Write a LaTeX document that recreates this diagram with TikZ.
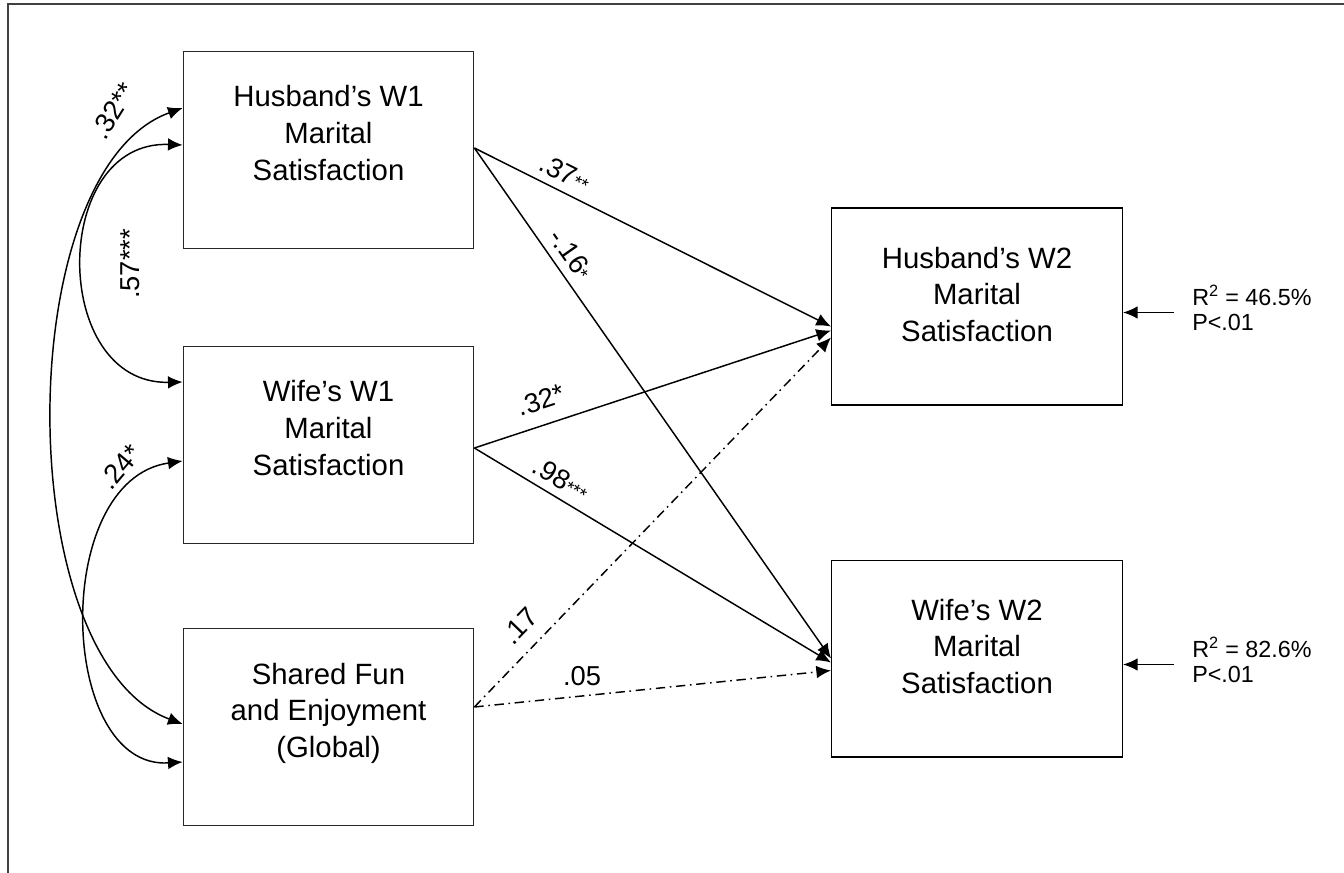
\documentclass[tikz,border=0pt]{standalone}
\usepackage{fontspec}
\setmainfont{Liberation Sans}
\usetikzlibrary{arrows.meta,calc}
\newcommand\smlast[1]{{\fontsize{14}{14}\selectfont #1}}
\begin{document}
\begin{tikzpicture}[x=0.75pt,y=-0.75pt,
  box/.style={draw=black!85, line width=0.8pt, minimum width=218pt, minimum height=147.5pt, inner sep=0pt},
  boxtext/.style={align=center, font=\fontsize{22}{27.4}\selectfont, inner sep=0pt},
  conn/.style={line width=1.1pt, -{Latex[length=11pt,width=9.5pt]}},
  corr/.style={line width=1.1pt, {Latex[length=11pt,width=9.5pt]}-{Latex[length=11pt,width=9.5pt]}},
  dashdot/.style={dash pattern=on 7pt off 3.5pt on 1.2pt off 3.5pt},
  lab/.style={font=\fontsize{20.5}{24}\selectfont, inner sep=0pt},
  rtext/.style={align=left, font=\fontsize{17.5}{18.75}\selectfont, inner sep=0pt, anchor=west},
  frame/.style={draw=black!75, line width=1.2pt}]
\useasboundingbox (0,0) rectangle (1344,873);
\draw[frame] (8,873) -- (8,4) -- (1344,4);

% boxes
\node[box] (H1) at (328.5,150) {};
\node[box] (W1) at (328.5,445) {};
\node[box] (S)  at (328.5,727) {};
\node[box, line width=1pt, draw=black] (H2) at (977,306.5) {};
\node[box, line width=1pt, draw=black] (W2) at (977,658.5) {};

\node[boxtext] (H1t) at ($(H1)+(0,-17)$) {Husband’s W1\\Marital\\Satisfaction};
\node[boxtext] (W1t) at ($(W1)+(0,-17)$) {Wife’s W1\\Marital\\Satisfaction};
\node[boxtext] (St)  at ($(S)+(0,-14)$) {Shared Fun\\and Enjoyment\\(Global)};
\node[boxtext] (H2t) at ($(H2)+(0,-12)$) {Husband’s W2\\Marital\\Satisfaction};
\node[boxtext] (W2t) at ($(W2)+(0,-12)$) {Wife’s W2\\Marital\\Satisfaction};

% paths
\draw[conn] ($(H1.east)+(0,-2)$) -- ($(H2.west)+(0,20)$);
\draw[conn] ($(H1.east)+(0,-2)$) -- (W2.west);
\draw[conn] ($(W1.east)+(0,3)$) -- ($(H2.west)+(0,24)$);
\draw[conn] ($(W1.east)+(0,3)$) -- ($(W2.west)+(0,4)$);
\draw[conn,dashdot] ($(S.east)+(0,-20)$) -- ($(H2.west)+(0,31)$);
\draw[conn,dashdot] ($(S.east)+(0,-20)$) -- ($(W2.west)+(0,12)$);

% correlations
\draw[corr] ($(H1.west)+(0,-42)$) .. controls (10,170) and (10,660) .. ($(S.west)+(0,-3)$);
\draw[corr] ($(H1.west)+(0,-5)$) .. controls (50,140) and (50,385) .. ($(W1.west)+(0,-63)$);
\draw[corr] ($(W1.west)+(0,16)$) .. controls (50,480) and (58,770) .. ($(S.west)+(0,35)$);

% R squared
\coordinate (R1s) at ($(H2.east)+(51,6)$);
\coordinate (R2s) at ($(W2.east)+(51,6)$);
\draw[conn] (R1s) -- ($(H2.east)+(0,6)$);
\draw[conn] (R2s) -- ($(W2.east)+(0,6)$);
\node[rtext] (R1) at (1192,308) {R\textsuperscript{2} = 46.5\%\\P<.01};
\node[rtext] (R2) at (1192,660) {R\textsuperscript{2} = 82.6\%\\P<.01};

% labels
\node[lab, rotate=-26.5] (l37) at (565,173) {.37\smlast{**}};
\node[lab, rotate=-55] (l16) at (571,254) {-.16\smlast{*}};
\node[lab, rotate=18] (l32b) at (541,400) {.32*};
\node[lab, rotate=-31] (l98) at (561,479) {.98\smlast{***}};
\node[lab, rotate=46] (l17) at (520,626) {.17};
\node[lab] (l05) at (582,676) {.05};
\node[lab, rotate=58] (l32a) at (113,111) {.32**};
\node[lab, rotate=90] (l57) at (130,264) {.57***};
\node[lab, rotate=50] (l24) at (120,467) {.24*};
\end{tikzpicture}
\end{document}
